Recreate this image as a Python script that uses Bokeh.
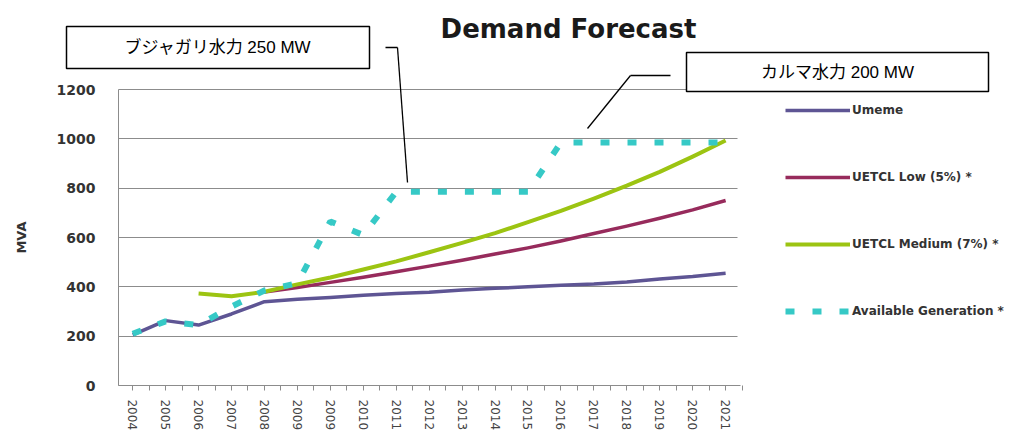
import numpy as np
from bokeh.plotting import figure
from bokeh.models import (Range1d, FixedTicker, Legend, LegendItem, Label,
                          BoxAnnotation, Arrow)
from bokeh.embed import file_html
from bokeh.resources import INLINE

# ---- data (MVA) ----
years = ["2004", "2005", "2006", "2007", "2008", "2009", "2009", "2010", "2011",
         "2012", "2013", "2014", "2015", "2016", "2017", "2018", "2019", "2020", "2021"]
nan = float("nan")
umeme = [205, 263, 245, 290, 340, 350, 357, 366, 373, 378, 387, 394, 400, 406,
         411, 420, 432, 442, 455]
uetcl_low = [nan, nan, nan, nan, 379, 397, 418, 439, 461, 484, 508, 533, 558, 586,
             616, 646, 678, 712, 750]
uetcl_medium = [nan, nan, 373, 362, 380, 410, 438, 470, 503, 540, 578, 618, 662, 708,
                758, 810, 866, 928, 993]
available = [210, 260, 245, 320, 385, 415, 665, 610, 785, 785, 785, 785, 785, 985,
             985, 985, 985, 985, 985]
y_ticks = [0, 200, 400, 600, 800, 1000, 1200]

x = np.arange(len(years))

# ---- canvas geometry: the frame fills the whole canvas, the axes are pinned ----
W, H = 1015, 437
PLOT_L, PLOT_R, PLOT_T, PLOT_B = 118, 740, 89, 385   # chart area in pixels
CAT0_PX, CAT_STEP = 132.2, 32.94                      # first category, spacing
MVA_PER_PX = 1200 / (PLOT_B - PLOT_T)

X0, X1 = -CAT0_PX / CAT_STEP, (W - CAT0_PX) / CAT_STEP
Y0, Y1 = -(H - PLOT_B) * MVA_PER_PX, PLOT_B * MVA_PER_PX


def dx(px):
    return X0 + px * (X1 - X0) / W


def dy(py):
    return Y1 - py * (Y1 - Y0) / H


p = figure(width=W, height=H, x_range=Range1d(X0, X1), y_range=Range1d(Y0, Y1),
           output_backend="svg", toolbar_location=None,
           min_border=0, min_border_left=0, min_border_right=0,
           min_border_top=0, min_border_bottom=0)
p.title.visible = False
p.outline_line_color = None
p.background_fill_color = "white"
p.border_fill_color = "white"

# ---- axes ----
xa = p.xaxis[0]
xa.fixed_location = 0
xa.bounds = (dx(PLOT_L), dx(PLOT_R))
xa.ticker = FixedTicker(ticks=list(x), minor_ticks=list(x + 0.5))
xa.major_label_overrides = {int(i): y for i, y in zip(x, years)}
xa.major_label_orientation = "vertical"
xa.major_label_text_font = "DejaVu Sans"
xa.major_label_text_font_size = "12px"
xa.major_label_text_color = "#444444"
xa.major_label_standoff = 9
xa.axis_line_color = "#8c8c8c"
xa.major_tick_line_color = "#8c8c8c"
xa.minor_tick_line_color = "#8c8c8c"
xa.major_tick_out = 5
xa.major_tick_in = 0
xa.minor_tick_out = 5
xa.minor_tick_in = 0

ya = p.yaxis[0]
ya.fixed_location = dx(PLOT_L)
ya.bounds = (0, 1200)
ya.ticker = FixedTicker(ticks=y_ticks)
ya.major_label_text_font = "DejaVu Sans"
ya.major_label_text_font_style = "bold"
ya.major_label_text_font_size = "14px"
ya.major_label_text_color = "#333333"
ya.major_label_standoff = 17
ya.axis_line_color = "#8c8c8c"
ya.major_tick_line_color = None
ya.minor_tick_line_color = None
ya.axis_label = "MVA"
ya.axis_label_text_font = "DejaVu Sans"
ya.axis_label_text_font_style = "bold"
ya.axis_label_text_font_size = "13px"
ya.axis_label_text_color = "#333333"
ya.axis_label_standoff = 25

p.xgrid.visible = False
p.ygrid.ticker = FixedTicker(ticks=y_ticks)
p.ygrid.cross_bounds = (dx(PLOT_L), dx(PLOT_R - 3))
p.ygrid.grid_line_color = "#8c8c8c"
p.ygrid.grid_line_width = 1.2

# ---- series ----
r_umeme = p.line(x, umeme, line_color="#5E5594", line_width=3.5, line_join="round")
r_low = p.line(x, uetcl_low, line_color="#972B5C", line_width=3.5, line_join="round")
r_med = p.line(x, uetcl_medium, line_color="#9CC412", line_width=4, line_join="round")
r_avail = p.line(x, available, line_color="#36C9C6", line_width=6,
                 line_dash="9 18", line_cap="butt")

legend = Legend(items=[
    LegendItem(label="Umeme", renderers=[r_umeme]),
    LegendItem(label="UETCL Low (5%) *", renderers=[r_low]),
    LegendItem(label="UETCL Medium (7%) *", renderers=[r_med]),
    LegendItem(label="Available Generation *", renderers=[r_avail]),
], location=(785, H - 321))
legend.padding = 0
legend.margin = 0
legend.border_line_color = None
legend.background_fill_alpha = 0
legend.glyph_width = 65
legend.glyph_height = 20
legend.label_height = 20
legend.spacing = 47
legend.label_standoff = 2
legend.label_text_font = "DejaVu Sans"
legend.label_text_font_style = "bold"
legend.label_text_font_size = "12px"
legend.label_text_color = "#333333"
p.add_layout(legend)

# ---- title ----
p.add_layout(Label(x=dx(568), y=dy(28), text="Demand Forecast",
                   text_align="center", text_baseline="middle",
                   text_font="DejaVu Sans", text_font_style="bold",
                   text_font_size="26px", text_color="#1a1a1a"))

# ---- callouts ----
callouts = [
    ("ブジャガリ水力 250 MW", (66, 369, 26, 68),
     [(385, 47), (397, 47), (407, 182)]),
    ("カルマ水力 200 MW", (686, 988, 52, 91),
     [(670, 75), (630, 75), (587, 128)]),
]
for text, (bl, br, bt, bb), path in callouts:
    p.add_layout(BoxAnnotation(left=dx(bl), right=dx(br), top=dy(bt), bottom=dy(bb),
                               fill_color="white", fill_alpha=1,
                               line_color="black", line_alpha=1, line_width=1.5))
    p.add_layout(Label(x=dx((bl + br) / 2), y=dy((bt + bb) / 2), text=text,
                       text_align="center", text_baseline="middle",
                       text_font="'Liberation Sans', 'Noto Sans CJK JP'",
                       text_font_size="17px", text_color="black"))
    for (ax, ay), (bx, by) in zip(path[:-1], path[1:]):
        p.add_layout(Arrow(end=None, x_start=dx(ax), y_start=dy(ay),
                           x_end=dx(bx), y_end=dy(by),
                           line_color="black", line_width=1.3))

open("out.html", "w").write(file_html(p, INLINE))
